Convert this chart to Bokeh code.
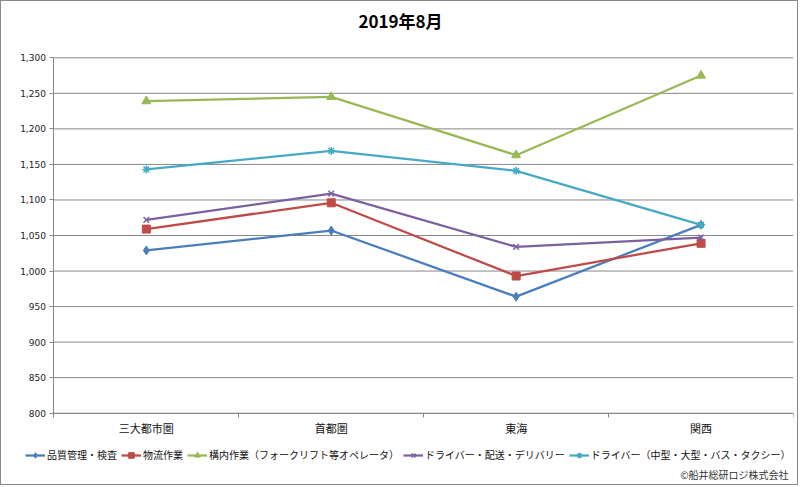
from bokeh.plotting import figure
from bokeh.models import (Range1d, LinearAxis, FixedTicker, NumeralTickFormatter, Legend,
                          LegendItem, Label, CustomJSTickFormatter, ColumnDataSource)
from bokeh.embed import file_html
from bokeh.resources import INLINE

title_text = "2019年8月"
regions = ["三大都市圏", "首都圏", "東海", "関西"]
series_names = [
    "品質管理・検査",
    "物流作業",
    "構内作業（フォークリフト等オペレータ）",
    "ドライバー・配送・デリバリー",
    "ドライバー（中型・大型・バス・タクシー）",
]
quality = [1029, 1057, 964, 1065]
logistics = [1059, 1096, 993, 1039]
forklift = [1239, 1245, 1163, 1275]
driver_delivery = [1072, 1109, 1034, 1047]
driver_bus = [1143, 1169, 1141, 1065]
y_ticks = [800, 850, 900, 950, 1000, 1050, 1100, 1150, 1200, 1250, 1300]
credit = "©船井総研ロジ株式会社"

colors = ["#4A7EBB", "#BE4B48", "#98B954", "#7D60A0", "#46AAC5"]
markers = ["diamond", "square", "triangle", "x", "asterisk"]
msizes = [9, 8, 9, 8, 8]
series = [quality, logistics, forklift, driver_delivery, driver_bus]

GRID = "#878787"
JP = "Noto Sans CJK JP"

n = len(regions)
cat_x = [i + 0.5 for i in range(n)]
y_min, y_max = y_ticks[0], y_ticks[-1]

# the frame covers the whole canvas so that title, legend and credit are not clipped;
# the visible plotting area is [0, n] x [y_min, y_max]
p = figure(width=798, height=485, x_range=Range1d(-0.278, n),
           y_range=Range1d(699.7, 1377.8), output_backend="svg", toolbar_location=None,
           x_axis_location=None, y_axis_location=None,
           min_border_left=1, min_border_right=6, min_border_top=1, min_border_bottom=2)
p.styles = {"border": "1px solid #888888"}
p.outline_line_color = None
p.background_fill_color = "white"
p.border_fill_color = "white"
p.xgrid.visible = False
p.ygrid.visible = False

# horizontal gridlines over the plotting area
grid_src = ColumnDataSource(dict(x0=[0] * len(y_ticks), x1=[n] * len(y_ticks),
                                 y=y_ticks))
p.segment(x0="x0", x1="x1", y0="y", y1="y", source=grid_src, line_color=GRID,
          line_width=1, level="underlay")

# y axis
yax = LinearAxis(fixed_location=0, bounds=(y_min, y_max),
                 ticker=FixedTicker(ticks=y_ticks),
                 formatter=NumeralTickFormatter(format="0,0"))
yax.axis_line_color = GRID
yax.major_tick_line_color = GRID
yax.major_tick_out = 4
yax.major_tick_in = 0
yax.minor_tick_line_color = None
yax.major_label_standoff = 4
yax.major_label_text_font = "DejaVu Sans"
yax.major_label_text_font_size = "9px"
yax.major_label_text_color = "#222222"
p.add_layout(yax, "left")

# x axis: line with boundary ticks
bax = LinearAxis(fixed_location=y_min, bounds=(0, n),
                 ticker=FixedTicker(ticks=list(range(n + 1))),
                 formatter=CustomJSTickFormatter(code="return ''"))
bax.axis_line_color = GRID
bax.major_tick_line_color = GRID
bax.major_tick_out = 4
bax.major_tick_in = 0
bax.minor_tick_line_color = None
bax.major_label_text_font_size = "0px"
bax.major_label_standoff = 0
p.add_layout(bax, "below")

# x axis: category labels
cax = LinearAxis(fixed_location=y_min, bounds=(0, n), ticker=FixedTicker(ticks=cat_x),
                 major_label_overrides={x: r for x, r in zip(cat_x, regions)})
cax.axis_line_color = None
cax.major_tick_line_color = None
cax.major_tick_out = 0
cax.minor_tick_line_color = None
cax.major_label_standoff = 7
cax.major_label_text_font = JP
cax.major_label_text_font_size = "11px"
cax.major_label_text_color = "#111111"
p.add_layout(cax, "below")

items = []
for name, vals, c, m, s in zip(series_names, series, colors, markers, msizes):
    ln = p.line(cat_x, vals, line_color=c, line_width=2.25)
    if m in ("x", "asterisk"):
        sc = p.scatter(cat_x, vals, marker=m, size=s, line_color=c, line_width=1.5, fill_color=c)
    else:
        sc = p.scatter(cat_x, vals, marker=m, size=s, line_color=c, fill_color=c)
    items.append(LegendItem(label=name, renderers=[ln, sc]))

legend = Legend(items=items, orientation="horizontal", location=(23, 22),
                padding=0, margin=0, spacing=4, label_standoff=2, glyph_width=20,
                glyph_height=14, label_text_font=JP, label_text_font_size="10px",
                label_text_color="#111111", background_fill_alpha=0,
                border_line_color=None, label_height=14)
p.add_layout(legend, "center")

p.add_layout(Label(x=398, y=464, x_units="screen", y_units="screen", text=title_text,
                   text_align="center", text_baseline="middle", text_font=JP,
                   text_font_style="bold", text_font_size="17px", text_color="#000000"))
p.add_layout(Label(x=786, y=10, x_units="screen", y_units="screen", text=credit,
                   text_align="right", text_baseline="middle", text_font=JP,
                   text_font_size="10px", text_color="#333333"))

open("out.html", "w").write(file_html(p, INLINE))
